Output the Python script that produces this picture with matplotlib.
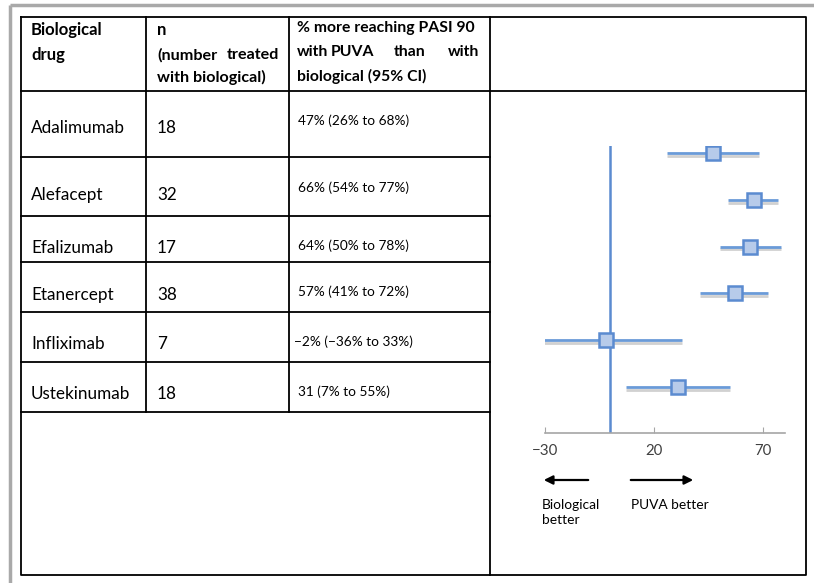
import matplotlib.pyplot as plt
from matplotlib.patheffects import SimpleLineShadow, Normal

plt.rcParams['font.family'] = ['Lato', 'DejaVu Sans']

# table data
drugs = ['Adalimumab', 'Alefacept', 'Efalizumab', 'Etanercept', 'Infliximab', 'Ustekinumab']
n_treated = ['18', '32', '17', '38', '7', '18']
ci_text = ['47% (26% to 68%)', '66% (54% to 77%)', '64% (50% to 78%)',
           '57% (41% to 72%)', '\u22122% (\u221236% to 33%)', '31 (7% to 55%)']

# forest plot values (% more reaching PASI 90 with PUVA)
est = [47, 66, 64, 57, -2, 31]
lo = [26, 54, 50, 41, -36, 7]
hi = [68, 77, 78, 72, 33, 55]
ticks = [-30, 20, 70]

# layout (pixels)
name_y = [128, 195, 248, 295, 344, 394]
ci_y = [121, 188, 246, 292, 342, 392]
row_lines = [157, 216, 262, 312, 362, 412]

fig = plt.figure(figsize=(8.14, 5.83), dpi=100)
bg = fig.add_axes([0, 0, 1, 1])
bg.set_xlim(0, 814)
bg.set_ylim(583, 0)
bg.axis('off')

# grey page frame
bg.plot([10, 10], [5, 583], color='#a9a9a9', lw=2.5, solid_capstyle='butt')
bg.plot([10, 814], [5, 5], color='#a9a9a9', lw=2.5, solid_capstyle='butt')

# table grid
k = dict(color='black', lw=1.3, solid_capstyle='projecting')
bg.plot([21, 806, 806, 21, 21], [17, 17, 575, 575, 17], **k)
bg.plot([21, 806], [91, 91], **k)
bg.plot([490, 490], [17, 575], **k)
for x in [146, 289]:
    bg.plot([x, x], [17, 412], **k)
for y in row_lines:
    bg.plot([21, 490], [y, y], **k)

# header
hb = dict(fontweight='bold', fontsize=12, va='center', color='black')
bg.text(31, 30, 'Biological', **hb)
bg.text(31, 55, 'drug', **hb)
bg.text(157, 30, 'n', **hb)
h1 = dict(fontweight='bold', fontsize=11.6, va='center', color='black')
bg.text(157, 55, '(number', **h1)
bg.text(279, 55, 'treated', ha='right', **h1)
bg.text(157, 77, 'with biological)', **h1)
h2 = dict(fontweight='bold', fontsize=11.3, va='center', color='black')
bg.text(297, 28, '% more reaching PASI 90', **h2)
bg.text(297, 52, 'with', **h2)
bg.text(331, 52, 'PUVA', **h2)
bg.text(394, 52, 'than', **h2)
bg.text(479, 52, 'with', ha='right', **h2)
bg.text(297, 76, 'biological (95% CI)', **h2)

for i in range(len(drugs)):
    bg.text(31, name_y[i], drugs[i], fontsize=12.3, va='center')
    bg.text(157, name_y[i], n_treated[i], fontsize=12.3, va='center')
    bg.text(298 if i != 4 else 294, ci_y[i], ci_text[i], fontsize=9.8, va='center')

# arrows and labels under the forest plot
bg.annotate('', xy=(541, 480), xytext=(591, 480),
            arrowprops=dict(arrowstyle='-|>', color='black', lw=1.6, mutation_scale=13))
bg.annotate('', xy=(696, 480), xytext=(628, 480),
            arrowprops=dict(arrowstyle='-|>', color='black', lw=1.6, mutation_scale=13))
bg.text(542, 499, 'Biological\nbetter', fontsize=9.9, va='top', linespacing=1.25)
bg.text(631, 499, 'PUVA better', fontsize=9.9, va='top')

# forest plot
ax = fig.add_axes([545 / 814, 1 - 433 / 583, 240 / 814, (433 - 146) / 583])
ypos = list(range(len(est)))
ax.set_xlim(-30, 80)
ax.set_ylim(5.98, -0.15)
ax.axvline(0, color='#5b8bd0', lw=1.8)
ax.hlines(ypos, lo, hi, color='#6a9bd8', lw=2,
          path_effects=[SimpleLineShadow(offset=(0, -2), shadow_color='#999999', alpha=0.45), Normal()])
ax.plot(est, ypos, 's', ms=9.5, mfc='#b7cbea', mec='#5b8bd0', mew=1.8)
for s in ['top', 'left', 'right']:
    ax.spines[s].set_visible(False)
ax.spines['bottom'].set_color('#a6a6a6')
ax.spines['bottom'].set_linewidth(1.2)
ax.set_yticks([])
ax.set_xticks(ticks)
ax.tick_params(axis='x', direction='in', length=4, color='#a6a6a6', labelsize=10.8,
               labelcolor='#404040', pad=8)
ax.patch.set_alpha(0)

fig.savefig('out.png', dpi=100)
